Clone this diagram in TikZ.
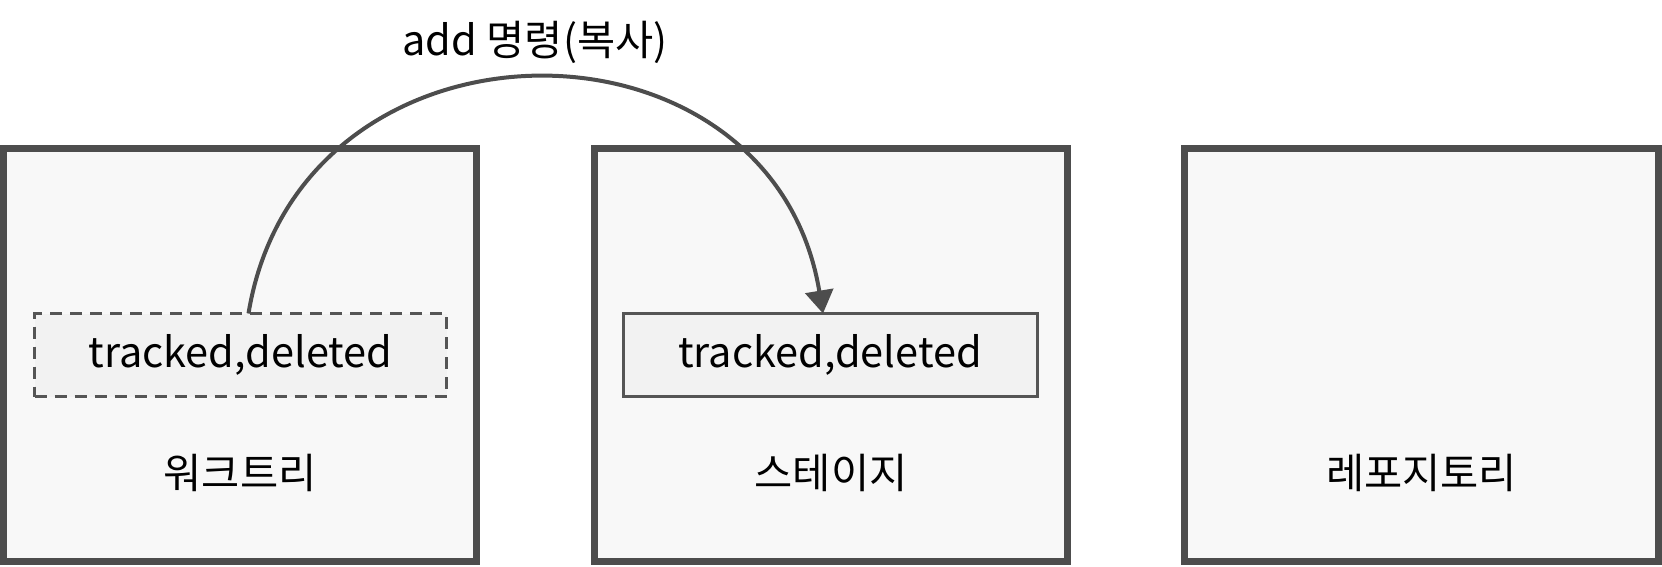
\documentclass[tikz,border=0pt]{standalone}
\usepackage{fontspec}
\setmainfont{Noto Sans CJK KR}
\usetikzlibrary{arrows.meta}
\definecolor{edge}{HTML}{4D4D4D}
\definecolor{boxfill}{HTML}{F8F8F8}
\definecolor{itemfill}{HTML}{F2F2F2}
\definecolor{itemedge}{HTML}{555555}
\begin{document}
\begin{tikzpicture}[x=1pt,y=-1pt,
  every node/.style={font=\fontsize{41.5}{50}\selectfont, inner sep=0pt, outer sep=0pt},
  area/.style={draw=edge, fill=boxfill, line width=7pt, minimum width=473pt, minimum height=413pt},
  item/.style={draw=itemedge, fill=itemfill, line width=3pt, minimum height=83pt},
  ghost/.style={item, dash pattern=on 12pt off 8pt},
  flow/.style={draw=edge, line width=4pt, -{Triangle[length=23pt,width=28pt]}}
]
\useasboundingbox (0,0) rectangle (1662,567);
\node[area] (wtbox) at (240,355) {};
\node[area] (stbox) at (831,355) {};
\node[area, minimum width=474pt] (rpbox) at (1421.5,355) {};
\node[ghost, minimum width=412pt] (wt) at (240.5,355) {tracked,deleted};
\node[item, minimum width=414pt] (st) at (830,355) {tracked,deleted};
\node (wtlab) at (240,473) {워크트리};
\node (stlab) at (831,473) {스테이지};
\node (rplab) at (1421.5,473) {레포지토리};
\node (title) at (535,42) {add 명령(복사)};
\draw[flow] ([xshift=8pt]wt.north) .. controls (300,0) and (771,0) .. ([xshift=-7pt]st.north);
\end{tikzpicture}
\end{document}
